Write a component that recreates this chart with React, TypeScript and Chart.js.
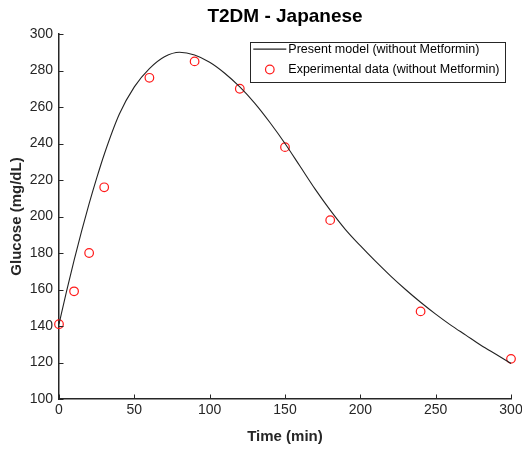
import React, { useEffect, useRef } from "react";
import { Chart, registerables } from "chart.js";

Chart.register(...registerables);

// ---- data ----
const modelTime = [0, 5, 10, 15, 20, 25, 30, 40, 50, 60, 70, 80, 90, 100, 110, 120, 130, 140, 150, 160, 170, 180, 190, 200, 210, 220, 230, 240, 250, 260, 270, 280, 290, 300];
const modelGlucose = [141, 159, 176, 192, 207, 221, 234, 256, 271, 281, 287.5, 290, 288.5, 284.5, 278.5, 271, 262, 251.5, 240, 227.5, 215, 203.5, 193, 184, 175.5, 167.5, 160, 153, 146.5, 140.5, 135, 129.5, 124.5, 119.5];

const expTime = [0, 10, 20, 30, 60, 90, 120, 150, 180, 240, 300];
const expGlucose = [141, 159, 180, 216, 276, 285, 270, 238, 198, 148, 122];

const seriesLabels = ["Present model (without Metformin)", "Experimental data (without Metformin)"];
const titleText = "T2DM - Japanese";
const xTitle = "Time (min)";
const yTitle = "Glucose (mg/dL)";

const FONT = '"Liberation Sans", Arial, Helvetica, sans-serif';
const AXIS = "#262626";

const inwardTicks = {
  id: "inwardTicks",
  afterDraw(chart: any) {
    const { ctx, chartArea, scales } = chart;
    ctx.save();
    ctx.strokeStyle = AXIS;
    ctx.lineWidth = 1;
    const len = 4.5;
    scales.x.ticks.forEach((t: any) => {
      const px = Math.round(scales.x.getPixelForValue(t.value)) + 0.5;
      ctx.beginPath();
      ctx.moveTo(px, chartArea.bottom);
      ctx.lineTo(px, chartArea.bottom - len);
      ctx.stroke();
    });
    scales.y.ticks.forEach((t: any) => {
      const py = Math.round(scales.y.getPixelForValue(t.value)) + 0.5;
      ctx.beginPath();
      ctx.moveTo(chartArea.left, py);
      ctx.lineTo(chartArea.left + len, py);
      ctx.stroke();
    });
    ctx.restore();
  },
};

const boxLegend = {
  id: "boxLegend",
  afterDraw(chart: any) {
    const { ctx, chartArea } = chart;
    const ds = chart.data.datasets;
    ctx.save();
    ctx.font = `12.5px ${FONT}`;
    const textW = Math.max(...ds.map((d: any) => ctx.measureText(d.label).width));
    const textStart = 38;
    const w = textStart + textW + 6;
    const h = 39.5;
    const right = chartArea.right - 5.5;
    const left = right - w;
    const top = chartArea.top + 8.3;
    ctx.fillStyle = "#ffffff";
    ctx.fillRect(left, top, w, h);
    ctx.strokeStyle = AXIS;
    ctx.lineWidth = 1;
    ctx.strokeRect(Math.round(left) + 0.5, Math.round(top) + 0.5, Math.round(w), Math.round(h));
    const rows = [top + 6.8, top + 27.2];
    // row 1: line sample
    ctx.strokeStyle = ds[0].borderColor;
    ctx.lineWidth = ds[0].borderWidth;
    ctx.beginPath();
    ctx.moveTo(left + 3, rows[0]);
    ctx.lineTo(left + 36, rows[0]);
    ctx.stroke();
    // row 2: circle marker
    ctx.strokeStyle = ds[1].borderColor;
    ctx.lineWidth = ds[1].borderWidth;
    ctx.beginPath();
    ctx.arc(left + 19.5, rows[1], ds[1].pointRadius, 0, Math.PI * 2);
    ctx.stroke();
    ctx.fillStyle = "#000000";
    ctx.textBaseline = "middle";
    ctx.textAlign = "left";
    ds.forEach((d: any, i: number) => {
      ctx.fillText(d.label, left + textStart, rows[i]);
    });
    ctx.restore();
  },
};

export default function App() {
  const ref = useRef<HTMLCanvasElement | null>(null);

  useEffect(() => {
    if (!ref.current) return;
    const chart = new Chart(ref.current, {
      type: "scatter",
      data: {
        datasets: [
          {
            type: "line",
            label: seriesLabels[0],
            data: modelTime.map((t, i) => ({ x: t, y: modelGlucose[i] })),
            borderColor: "#222222",
            borderWidth: 1.1,
            pointRadius: 0,
            fill: false,
            cubicInterpolationMode: "monotone",
          } as any,
          {
            type: "scatter",
            label: seriesLabels[1],
            data: expTime.map((t, i) => ({ x: t, y: expGlucose[i] })),
            borderColor: "#ff1a1a",
            backgroundColor: "rgba(0,0,0,0)",
            borderWidth: 1.2,
            pointRadius: 4.3,
            pointStyle: "circle",
            clip: false,
          } as any,
        ],
      },
      options: {
        responsive: false,
        animation: false,
        layout: { padding: { left: 0, right: 11, top: 0, bottom: 0 } },
        plugins: {
          legend: { display: false },
          tooltip: { enabled: false },
          title: {
            display: true,
            text: titleText,
            fullSize: false,
            color: "#000000",
            font: { family: FONT, size: 19, weight: "bold", lineHeight: 1.2 },
            padding: { top: 5.5, bottom: 5.7 },
          },
        },
        scales: {
          x: {
            type: "linear",
            min: 0,
            max: 300,
            ticks: {
              stepSize: 50,
              color: AXIS,
              font: { family: FONT, size: 14 },
              padding: 3,
              maxRotation: 0,
            },
            grid: { display: false, drawTicks: false },
            border: { display: true, color: AXIS, width: 1.5 },
            title: {
              display: true,
              text: xTitle,
              color: AXIS,
              font: { family: FONT, size: 15, weight: "bold", lineHeight: 1.2 },
              padding: { top: 0, bottom: 3 },
            },
            afterFit(scale: any) {
              scale.height = 50;
              scale.paddingLeft = 0;
              scale.paddingRight = 0;
            },
          },
          y: {
            type: "linear",
            min: 100,
            max: 300,
            ticks: {
              stepSize: 20,
              color: AXIS,
              font: { family: FONT, size: 14 },
              padding: 6,
            },
            grid: { display: false, drawTicks: false },
            border: { display: true, color: AXIS, width: 1.5 },
            title: {
              display: true,
              text: yTitle,
              color: AXIS,
              font: { family: FONT, size: 15, weight: "bold", lineHeight: 1.2 },
              padding: { top: 8, bottom: 0 },
            },
            afterFit(scale: any) {
              scale.width = 59;
              scale.paddingTop = 0;
              scale.paddingBottom = 0;
            },
          },
        },
      },
      plugins: [inwardTicks, boxLegend],
    });
    return () => chart.destroy();
  }, []);

  return (
    <div style={{ position: "absolute", left: 0, top: 0, width: 522, height: 449, background: "#ffffff" }}>
      <canvas ref={ref} width={522} height={449} style={{ width: 522, height: 449, display: "block" }} />
    </div>
  );
}
